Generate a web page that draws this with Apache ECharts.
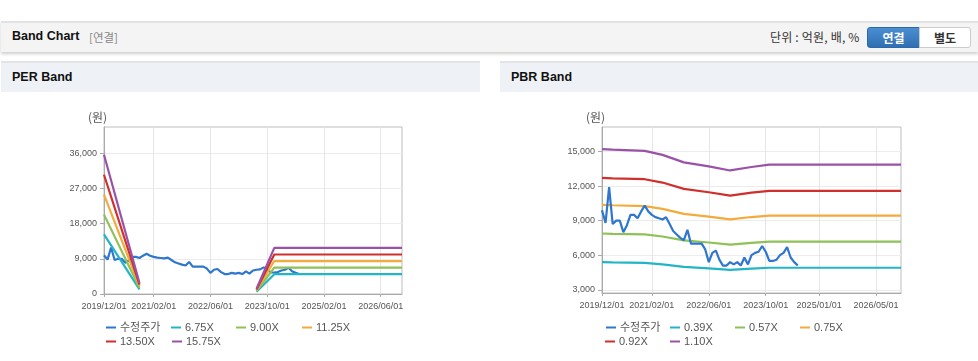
<!DOCTYPE html>
<html><head><meta charset="utf-8">
<script src="https://cdn.jsdelivr.net/npm/echarts@6/dist/echarts.min.js"></script>
<style>
html,body{margin:0;padding:0;background:#fff;width:978px;height:361px;overflow:hidden;font-family:"Liberation Sans",Arial,sans-serif;}
#hdr{position:absolute;left:1px;top:21px;width:977px;height:29px;background:#f4f4f4;border-top:2px solid #e2e2e2;box-shadow:0 2px 3px rgba(0,0,0,0.2);}
#hdr .t{position:absolute;left:11px;top:6px;font-weight:bold;font-size:12.5px;color:#111;}
#hdr .s{position:absolute;left:88px;top:7px;font-size:11.5px;color:#888;font-family:"Noto Sans CJK KR",sans-serif;line-height:15px;}
#hdr .u{position:absolute;left:769px;top:6px;font-size:12px;color:#333;font-family:"Noto Sans CJK KR",sans-serif;line-height:16px;letter-spacing:0.2px;}
#b1{position:absolute;left:866px;top:4px;width:51px;height:19px;background:linear-gradient(#4a8fd2,#2f6fb2);border:1px solid #2d69a8;border-radius:3px 0 0 3px;color:#fff;font-weight:bold;font-size:12px;text-align:center;line-height:19px;font-family:"Noto Sans CJK KR",sans-serif;}
#b2{position:absolute;left:918px;top:4px;width:50px;height:19px;background:#fff;border:1px solid #ccc;border-radius:0 3px 3px 0;color:#333;font-weight:bold;font-size:12px;text-align:center;line-height:19px;font-family:"Noto Sans CJK KR",sans-serif;}
.ph{position:absolute;top:61px;height:29px;background:#eef1f6;border-top:2px solid #e1e5eb;}
.ph span{position:absolute;left:11px;top:7px;font-weight:bold;font-size:12.5px;color:#111;}
#chart{position:absolute;left:0;top:0;width:978px;height:361px;}
</style></head>
<body>
<div id="hdr"><span class="t">Band Chart</span><span class="s">[연결]</span><span class="u">단위 : 억원, 배, %</span><div id="b1">연결</div><div id="b2">별도</div></div>
<div class="ph" style="left:1px;width:479px;"><span>PER Band</span></div>
<div class="ph" style="left:500px;width:478px;"><span>PBR Band</span></div>
<div id="chart"></div>
<script>
const categories = [
'2019/12/01',
'2020/01/01','2020/02/01','2020/03/01','2020/04/01','2020/05/01','2020/06/01','2020/07/01','2020/08/01','2020/09/01','2020/10/01','2020/11/01','2020/12/01',
'2021/01/01','2021/02/01','2021/03/01','2021/04/01','2021/05/01','2021/06/01','2021/07/01','2021/08/01','2021/09/01','2021/10/01','2021/11/01','2021/12/01',
'2022/01/01','2022/02/01','2022/03/01','2022/04/01','2022/05/01','2022/06/01','2022/07/01','2022/08/01','2022/09/01','2022/10/01','2022/11/01','2022/12/01',
'2023/01/01','2023/02/01','2023/03/01','2023/04/01','2023/05/01','2023/06/01','2023/07/01','2023/08/01','2023/09/01','2023/10/01','2023/11/01','2023/12/01',
'2024/01/01','2024/02/01','2024/03/01','2024/04/01','2024/05/01','2024/06/01','2024/07/01','2024/08/01','2024/09/01','2024/10/01','2024/11/01','2024/12/01',
'2025/01/01','2025/02/01','2025/03/01','2025/04/01','2025/05/01','2025/06/01','2025/07/01','2025/08/01','2025/09/01','2025/10/01','2025/11/01','2025/12/01',
'2026/01/01','2026/02/01','2026/03/01','2026/04/01','2026/05/01','2026/06/01','2026/07/01','2026/08/01','2026/09/01','2026/10/01','2026/11/01','2026/12/01'
];
const perXTicks = ['2019/12/01','2021/02/01','2022/06/01','2023/10/01','2025/02/01','2026/06/01'];
const pbrXTicks = ['2019/12/01','2021/02/01','2022/06/01','2023/10/01','2025/01/01','2026/05/01'];
const perYTicks = [0, 9000, 18000, 27000, 36000];
const pbrYTicks = [3000, 6000, 9000, 12000, 15000];

// 수정주가 (monthly, from 2019/12)
const price = [9900, 8800, 11900, 8700, 9000, 9000, 8000, 8600, 9500, 9500, 9200, 9800, 10300, 9800, 9500, 9300,
  9200, 9100, 9300, 8700, 8100, 7800, 7500, 7300, 8200, 7000, 7000, 7000, 7000, 6500, 5400, 6200, 6400, 5600,
  5100, 5100, 5400, 5200, 5400, 5100, 5800, 5200, 6000, 6200, 6300, 6800, 6300, 5500, 5500, 5600, 6000, 6200,
  6700, 5800, 5400, 5100];

// PER bands: [date, value] key points, '-' marks the gap
const per675 = [['2019/12/01',15250],['2020/10/01',1200],['2022/01/01','-'],['2023/07/01',570],['2023/12/01',5060],['2026/12/01',5060]];
const per900 = [['2019/12/01',20300],['2020/10/01',1600],['2022/01/01','-'],['2023/07/01',770],['2023/12/01',6750],['2026/12/01',6750]];
const per1125 = [['2019/12/01',25400],['2020/10/01',2000],['2022/01/01','-'],['2023/07/01',950],['2023/12/01',8430],['2026/12/01',8430]];
const per1350 = [['2019/12/01',30500],['2020/10/01',2400],['2022/01/01','-'],['2023/07/01',1150],['2023/12/01',10100],['2026/12/01',10100]];
const per1575 = [['2019/12/01',35600],['2020/10/01',2800],['2022/01/01','-'],['2023/07/01',1350],['2023/12/01',11800],['2026/12/01',11800]];

// PBR bands: [date, value] key points
const pbr039 = [['2019/12/01',5390],['2020/03/01',5370],['2020/12/01',5340],['2021/05/01',5210],['2021/11/01',4980],['2022/06/01',4860],['2022/12/01',4730],['2023/06/01',4840],['2023/11/01',4910],['2026/12/01',4910]];
const pbr057 = [['2019/12/01',7880],['2020/03/01',7850],['2020/12/01',7800],['2021/05/01',7620],['2021/11/01',7280],['2022/06/01',7100],['2022/12/01',6920],['2023/06/01',7070],['2023/11/01',7180],['2026/12/01',7180]];
const pbr075 = [['2019/12/01',10360],['2020/03/01',10330],['2020/12/01',10260],['2021/05/01',10020],['2021/11/01',9580],['2022/06/01',9340],['2022/12/01',9100],['2023/06/01',9310],['2023/11/01',9440],['2026/12/01',9440]];
const pbr092 = [['2019/12/01',12710],['2020/03/01',12670],['2020/12/01',12590],['2021/05/01',12300],['2021/11/01',11750],['2022/06/01',11460],['2022/12/01',11170],['2023/06/01',11420],['2023/11/01',11580],['2026/12/01',11580]];
const pbr110 = [['2019/12/01',15200],['2020/03/01',15150],['2020/12/01',15050],['2021/05/01',14700],['2021/11/01',14050],['2022/06/01',13700],['2022/12/01',13350],['2023/06/01',13650],['2023/11/01',13850],['2026/12/01',13850]];

const perNames = ['수정주가','6.75X','9.00X','11.25X','13.50X','15.75X'];
const pbrNames = ['수정주가 ','0.39X','0.57X','0.75X','0.92X','1.10X'];
const colors = ['#2f76cf','#22b5c6','#8ec156','#f3ab3b','#cf302c','#9a52a8'];

const chart = echarts.init(document.getElementById('chart'), null, {renderer:'canvas'});

function xAxis(gi, ticks){
  const f = (i, v) => ticks.indexOf(v) >= 0;
  return {type:'category', gridIndex:gi, data:categories, boundaryGap:false,
    axisLine:{lineStyle:{color:'#aaa'}},
    axisTick:{show:true, interval:f, length:3, lineStyle:{color:'#aaa'}},
    axisLabel:{interval:f, fontSize:9, color:'#555', margin:8, fontFamily:'Liberation Sans'},
    splitLine:{show:true, interval:f, lineStyle:{color:'#e6e6e6'}}};
}
const fmt = v => v.toLocaleString('en-US');

function yAxis(gi, min, max, ticks){
  return {type:'value', gridIndex:gi, min, max,
    axisLine:{show:true, lineStyle:{color:'#aaa'}},
    axisTick:{show:true, length:4, customValues:ticks, lineStyle:{color:'#aaa'}},
    axisLabel:{fontSize:9, color:'#555', margin:7, formatter:fmt, customValues:ticks, fontFamily:'Liberation Sans'},
    splitLine:{lineStyle:{color:'#ececec'}}};
}

function lineS(name, data, color, xi){
  return {type:'line', name, data, xAxisIndex:xi, yAxisIndex:xi, showSymbol:false, symbol:'none',
    lineStyle:{width:2.2, color}, itemStyle:{color}, connectNulls:false, animation:false};
}

function legends(names, pos){
  return names.map((n, k) => ({data:[n], left:pos[k][0], top:pos[k][1]-7, padding:0, itemGap:0,
    icon:'rect', itemWidth:10, itemHeight:2, selectedMode:false,
    textStyle:{fontSize:11, color:'#555', padding:[0,0,0,-1], fontFamily:'Liberation Sans, Noto Sans CJK KR'}}));
}

chart.setOption({
  animation:false,
  color: colors,
  grid:[
    {left:104, top:127, width:298, height:167, show:true, borderColor:'#bdbdbd', borderWidth:1, backgroundColor:'transparent'},
    {left:602, top:127, width:299, height:166, show:true, borderColor:'#bdbdbd', borderWidth:1, backgroundColor:'transparent'}
  ],
  xAxis:[xAxis(0, perXTicks), xAxis(1, pbrXTicks)],
  yAxis:[yAxis(0, 0, 42700, perYTicks), yAxis(1, 2720, 17120, pbrYTicks)],
  legend: legends(perNames, [[106,329],[171,329],[236,329],[302,329],[106,343],[172,343]])
    .concat(legends(pbrNames, [[606,329],[670,329],[735,329],[800,329],[605,343],[670,343]])),
  graphic:[
    {type:'text', left:88, top:111, style:{text:'(원)', fontSize:12, fill:'#555', fontFamily:'Noto Sans CJK KR'}},
    {type:'text', left:586, top:111, style:{text:'(원)', fontSize:12, fill:'#555', fontFamily:'Noto Sans CJK KR'}}
  ],
  series:[
    lineS(perNames[0], price, colors[0], 0),
    lineS(perNames[1], per675, colors[1], 0),
    lineS(perNames[2], per900, colors[2], 0),
    lineS(perNames[3], per1125, colors[3], 0),
    lineS(perNames[4], per1350, colors[4], 0),
    lineS(perNames[5], per1575, colors[5], 0),
    lineS(pbrNames[1], pbr039, colors[1], 1),
    lineS(pbrNames[2], pbr057, colors[2], 1),
    lineS(pbrNames[3], pbr075, colors[3], 1),
    lineS(pbrNames[4], pbr092, colors[4], 1),
    lineS(pbrNames[5], pbr110, colors[5], 1),
    lineS(pbrNames[0], price, colors[0], 1)
  ]
});
</script>
</body></html>
